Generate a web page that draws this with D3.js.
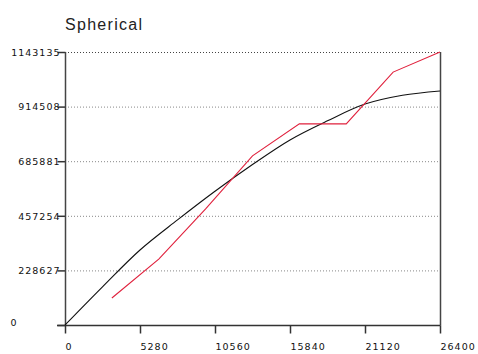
<!DOCTYPE html>
<html><head><meta charset="utf-8">
<script src="https://cdn.jsdelivr.net/npm/d3@7"></script>
<style>body{margin:0;background:#fff;} svg{display:block;}</style>
</head><body>
<svg id="c" width="478" height="354"></svg>
<script>
const title = "Spherical";
const xTicks = [0, 5280, 10560, 15840, 21120, 26400];
const yTicks = [0, 228627, 457254, 685881, 914508, 1143135];
// experimental variogram (red)
const lagDist = [3300, 6600, 9900, 13200, 16500, 19800, 23100, 26400];
const lagGamma = [113000, 276000, 486000, 708000, 842000, 842000, 1059000, 1143135];
// model curve (black)
const modelDist = [0, 2640, 5280, 7920, 10560, 13200, 15840, 18480, 21120, 23760, 26400];
const modelGamma = [0, 160000, 314000, 440000, 560000, 672000, 775000, 855000, 925000, 962000, 980000];

const svg = d3.select("#c");
const x = d3.scaleLinear().domain([0, 26400]).range([65, 440]);
const y = d3.scaleLinear().domain([0, 1143135]).range([325, 52]);

svg.append("text").attr("x", 65).attr("y", 30).text(title)
  .attr("font-family", "Liberation Sans, Arial, sans-serif").attr("font-size", 16)
  .attr("letter-spacing", 1.3).attr("fill", "#222");

// gridlines
svg.append("g").selectAll("line").data(yTicks.slice(1)).join("line")
  .attr("x1", 65).attr("x2", 440).attr("y1", d => y(d)+0.5).attr("y2", d => y(d)+0.5)
  .attr("stroke", (d,i) => i === yTicks.length-2 ? "#444" : "#888")
  .attr("stroke-dasharray", "1,2").attr("stroke-width", 1);

// y axis
const yAxis = d3.axisLeft(y).tickValues(yTicks).tickSize(8).tickFormat(d3.format("d"));
const gy = svg.append("g").attr("transform", "translate(65.5,0)").call(yAxis);
// x axis
const xAxis = d3.axisBottom(x).tickValues(xTicks).tickSize(8).tickFormat(d3.format("d"));
const gx = svg.append("g").attr("transform", "translate(0,325.5)").call(xAxis);
[gx, gy].forEach(g => {
  g.select(".domain").remove();
  g.selectAll("line").attr("stroke", "#333").attr("stroke-width", 1.5);
  g.selectAll("text").attr("font-family", "DejaVu Sans, sans-serif").attr("font-size", 9.5)
    .attr("letter-spacing", 1).attr("fill", "#111");
});
gy.selectAll("text").attr("x", -5).attr("dy", "0.35em");
gx.selectAll("text").attr("y", 18).attr("text-anchor", "start").attr("x", 0);
gy.selectAll(".tick").filter(d => d === 0).select("text").attr("x", -48).attr("dy", "0.1em");

// frame lines
svg.append("line").attr("x1", 65.5).attr("x2", 65.5).attr("y1", y(1143135)).attr("y2", 325.5)
  .attr("stroke", "#444").attr("stroke-width", 1.5);
svg.append("line").attr("x1", 440.5).attr("x2", 440.5).attr("y1", y(1143135)).attr("y2", 325.5)
  .attr("stroke", "#444").attr("stroke-width", 1.5);
svg.append("line").attr("x1", 57).attr("x2", 440.5).attr("y1", 325.5).attr("y2", 325.5)
  .attr("stroke", "#333").attr("stroke-width", 1.5);

// model
svg.append("path").datum(modelDist.map((d,i) => [d, modelGamma[i]]))
  .attr("d", d3.line().x(d => x(d[0])).y(d => y(d[1])).curve(d3.curveMonotoneX))
  .attr("fill", "none").attr("stroke", "#111").attr("stroke-width", 1.1);
// experimental
svg.append("path").datum(lagDist.map((d,i) => [d, lagGamma[i]]))
  .attr("d", d3.line().x(d => x(d[0])).y(d => y(d[1])))
  .attr("fill", "none").attr("stroke", "#e0203c").attr("stroke-width", 1.1);
</script>
</body></html>
